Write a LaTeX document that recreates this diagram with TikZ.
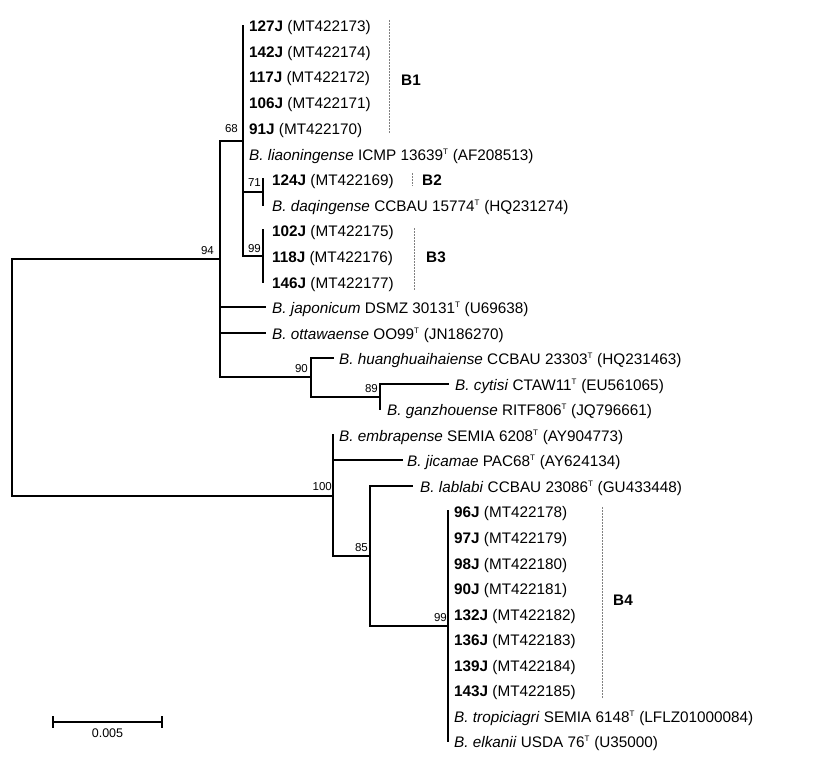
\documentclass[tikz,border=0pt]{standalone}
\usepackage{fontspec}
\setmainfont{Liberation Sans}
\newcommand\Ty{\textsuperscript{\fontsize{8}{8}\selectfont T}}
\newcommand\leaffont{\fontsize{15.3}{18}\selectfont}
\newcommand\bsfont{\fontsize{11.5}{13}\selectfont}
\begin{document}
\begin{tikzpicture}[x=1pt,y=-1pt,
  br/.style={line width=2pt,line join=miter,line cap=rect},
  leaf/.style={anchor=base west,inner sep=0pt,font=\leaffont,yshift=-6pt},
  boot/.style={anchor=base east,inner sep=0pt,font=\bsfont},
  cladebar/.style={gray,line width=0.7pt,dash pattern=on 1.6pt off 1.4pt},
  cladelab/.style={anchor=base west,inner sep=0pt,font=\leaffont\bfseries,yshift=-5.5pt}]
\useasboundingbox (0,0) rectangle (834,757);
% internal nodes
\coordinate (root) at (12,377);
\coordinate (n94) at (220,259);
\coordinate (n68) at (243,141);
\coordinate (n71) at (263,192);
\coordinate (nB3) at (263,256);
\coordinate (n90) at (311,377);
\coordinate (n89) at (380,397);
\coordinate (n100) at (333,496);
\coordinate (n85) at (370,556);
\coordinate (nB4) at (448,626);
% leaf tips
\coordinate (t0) at (243,26);
\coordinate (t1) at (243,52);
\coordinate (t2) at (243,77);
\coordinate (t3) at (243,103);
\coordinate (t4) at (243,128);
\coordinate (t5) at (243,154);
\coordinate (t6) at (263,179);
\coordinate (t7) at (263,205);
\coordinate (t8) at (263,230);
\coordinate (t9) at (263,256);
\coordinate (t10) at (263,282);
\coordinate (t11) at (265,307);
\coordinate (t12) at (265,333);
\coordinate (t13) at (333,358);
\coordinate (t14) at (448,384);
\coordinate (t15) at (380,409);
\coordinate (t16) at (333,435);
\coordinate (t17) at (402,460);
\coordinate (t18) at (412,486);
\coordinate (t19) at (448,511);
\coordinate (t20) at (448,537);
\coordinate (t21) at (448,563);
\coordinate (t22) at (448,588);
\coordinate (t23) at (448,614);
\coordinate (t24) at (448,639);
\coordinate (t25) at (448,665);
\coordinate (t26) at (448,690);
\coordinate (t27) at (448,716);
\coordinate (t28) at (448,741);
% branches
\draw[br] (n94) -| (root) |- (n100);
\foreach \c in {n68,t11,t12,n90} \draw[br] (n94) |- (\c);
\foreach \c in {t0,t1,t2,t3,t4,t5,n71,nB3} \draw[br] (n68) |- (\c);
\foreach \c in {t6,t7} \draw[br] (n71) |- (\c);
\foreach \c in {t8,t9,t10} \draw[br] (nB3) |- (\c);
\foreach \c in {t13,n89} \draw[br] (n90) |- (\c);
\foreach \c in {t14,t15} \draw[br] (n89) |- (\c);
\foreach \c in {t16,t17,n85} \draw[br] (n100) |- (\c);
\foreach \c in {t18,nB4} \draw[br] (n85) |- (\c);
\foreach \c in {t19,t20,t21,t22,t23,t24,t25,t26,t27,t28} \draw[br] (nB4) |- (\c);
% leaf labels
\node[leaf] (L0) at (249,26) {\textbf{127J} (MT422173)};
\node[leaf] (L1) at (249,52) {\textbf{142J} (MT422174)};
\node[leaf] (L2) at (249,77) {\textbf{117J} (MT422172)};
\node[leaf] (L3) at (249,103) {\textbf{106J} (MT422171)};
\node[leaf] (L4) at (249,128) {\textbf{91J} (MT422170)};
\node[leaf] (L5) at (249,154) {\textit{B. liaoningense} ICMP 13639\Ty{} (AF208513)};
\node[leaf] (L6) at (272,179) {\textbf{124J} (MT422169)};
\node[leaf] (L7) at (272,205) {\textit{B. daqingense} CCBAU 15774\Ty{} (HQ231274)};
\node[leaf] (L8) at (272,230) {\textbf{102J} (MT422175)};
\node[leaf] (L9) at (272,256) {\textbf{118J} (MT422176)};
\node[leaf] (L10) at (272,282) {\textbf{146J} (MT422177)};
\node[leaf] (L11) at (272,307) {\textit{B. japonicum} DSMZ 30131\Ty{} (U69638)};
\node[leaf] (L12) at (272,333) {\textit{B. ottawaense} OO99\Ty{} (JN186270)};
\node[leaf] (L13) at (339,358) {\textit{B. huanghuaihaiense} CCBAU 23303\Ty{} (HQ231463)};
\node[leaf] (L14) at (455,384) {\textit{B. cytisi} CTAW11\Ty{} (EU561065)};
\node[leaf] (L15) at (387,409) {\textit{B. ganzhouense} RITF806\Ty{} (JQ796661)};
\node[leaf] (L16) at (339,435) {\textit{B. embrapense} SEMIA 6208\Ty{} (AY904773)};
\node[leaf] (L17) at (407,460) {\textit{B. jicamae} PAC68\Ty{} (AY624134)};
\node[leaf] (L18) at (420,486) {\textit{B. lablabi} CCBAU 23086\Ty{} (GU433448)};
\node[leaf] (L19) at (454,511) {\textbf{96J} (MT422178)};
\node[leaf] (L20) at (454,537) {\textbf{97J} (MT422179)};
\node[leaf] (L21) at (454,563) {\textbf{98J} (MT422180)};
\node[leaf] (L22) at (454,588) {\textbf{90J} (MT422181)};
\node[leaf] (L23) at (454,614) {\textbf{132J} (MT422182)};
\node[leaf] (L24) at (454,639) {\textbf{136J} (MT422183)};
\node[leaf] (L25) at (454,665) {\textbf{139J} (MT422184)};
\node[leaf] (L26) at (454,690) {\textbf{143J} (MT422185)};
\node[leaf] (L27) at (454,716) {\textit{B. tropiciagri} SEMIA 6148\Ty{} (LFLZ01000084)};
\node[leaf] (L28) at (454,741) {\textit{B. elkanii} USDA 76\Ty{} (U35000)};
% bootstrap values
\node[boot] (b94) at (214,254) {94};
\node[boot] (b68) at (238,132.5) {68};
\node[boot] (b71) at (261,186) {71};
\node[boot] (b99a) at (261,252) {99};
\node[boot] (b90) at (308,372) {90};
\node[boot] (b89) at (378,392) {89};
\node[boot] (b100) at (332,490) {100};
\node[boot] (b85) at (368,551) {85};
\node[boot] (b99b) at (447,621) {99};
% clade bars
\coordinate (B1a) at (389,20); \coordinate (B1b) at (389,133);
\coordinate (B2a) at (412,173); \coordinate (B2b) at (412,186);
\coordinate (B3a) at (414,228); \coordinate (B3b) at (414,290);
\coordinate (B4a) at (602,507); \coordinate (B4b) at (602,698);
\draw[cladebar] (B1a) -- (B1b);
\draw[cladebar] (B2a) -- (B2b);
\draw[cladebar] (B3a) -- (B3b);
\draw[cladebar] (B4a) -- (B4b);
\node[cladelab] (C1) at (401,80) {B1};
\node[cladelab] (C2) at (422,180) {B2};
\node[cladelab] (C3) at (426,257) {B3};
\node[cladelab] (C4) at (613,600) {B4};
% scale bar
\coordinate (s1) at (53,722);
\coordinate (s2) at (162,722);
\draw[line width=2pt] (s1) -- (s2);
\draw[line width=2pt] ([yshift=6pt]s1) -- ([yshift=-6pt]s1);
\draw[line width=2pt] ([yshift=6pt]s2) -- ([yshift=-6pt]s2);
\node[inner sep=0pt,font=\fontsize{12.5}{14}\selectfont] (sl) at (107.5,733.5) {0.005};
\end{tikzpicture}
\end{document}
